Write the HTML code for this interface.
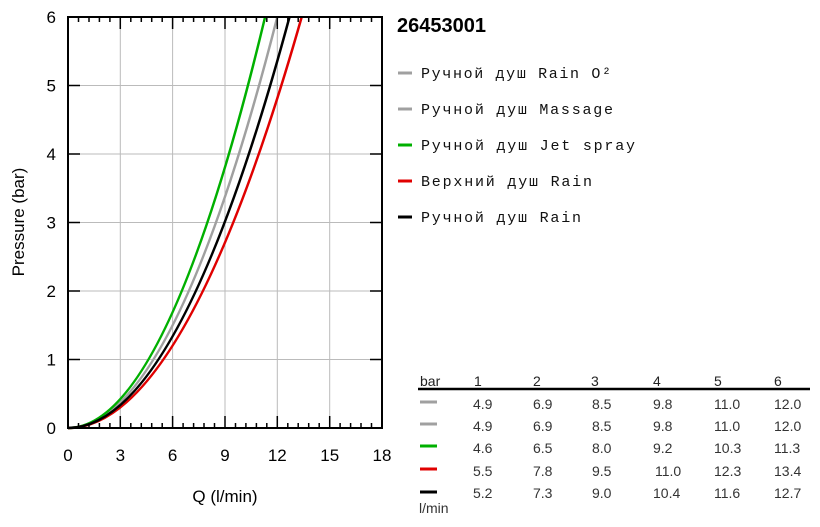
<!DOCTYPE html>
<html><head><meta charset="utf-8"><style>body{margin:0;background:#fff}</style></head><body>
<svg width="820" height="522" xmlns="http://www.w3.org/2000/svg" font-family="Liberation Sans, sans-serif">
<g stroke="#bbb" stroke-width="1">
<line x1="120.3" y1="17" x2="120.3" y2="428"/><line x1="172.6" y1="17" x2="172.6" y2="428"/><line x1="225" y1="17" x2="225" y2="428"/><line x1="277.3" y1="17" x2="277.3" y2="428"/><line x1="329.7" y1="17" x2="329.7" y2="428"/>
<line x1="68" y1="359.5" x2="382" y2="359.5"/><line x1="68" y1="291" x2="382" y2="291"/><line x1="68" y1="222.5" x2="382" y2="222.5"/><line x1="68" y1="154" x2="382" y2="154"/><line x1="68" y1="85.5" x2="382" y2="85.5"/>
</g>
<g fill="none" stroke-width="2.5">
<path stroke="#a0a0a0" d="M68 428Q172.6 428 277.3 17"/>
<path stroke="#00b000" d="M68 428Q166.5 428 265.1 17"/>
<path stroke="#e00000" d="M68 428Q184.8 428 301.7 17"/>
<path stroke="#000" d="M68 428Q178.7 428 289.5 17"/>
</g>
<rect x="68" y="17" width="314" height="411" fill="none" stroke="#000" stroke-width="2"/>
<g stroke="#000" stroke-width="1.5">
<path d="M120.3 17v12M172.6 17v12M225 17v12M277.3 17v12M329.7 17v12M120.3 428v-12M172.6 428v-12M225 428v-12M277.3 428v-12M329.7 428v-12"/>
<path d="M68 359.5h12M68 291h12M68 222.5h12M68 154h12M68 85.5h12M382 359.5h-12M382 291h-12M382 222.5h-12M382 154h-12M382 85.5h-12"/>
<path d="M78.5 17v5M89 17v5M99.4 17v5M109.9 17v5M130.8 17v5M141.3 17v5M151.7 17v5M162.2 17v5M183.1 17v5M193.6 17v5M204 17v5M214.5 17v5M235.5 17v5M245.9 17v5M256.4 17v5M266.8 17v5M287.8 17v5M298.2 17v5M308.7 17v5M319.2 17v5M340.1 17v5M350.6 17v5M361 17v5M371.5 17v5"/>
<path d="M78.5 428v-5M89 428v-5M99.4 428v-5M109.9 428v-5M130.8 428v-5M141.3 428v-5M151.7 428v-5M162.2 428v-5M183.1 428v-5M193.6 428v-5M204 428v-5M214.5 428v-5M235.5 428v-5M245.9 428v-5M256.4 428v-5M266.8 428v-5M287.8 428v-5M298.2 428v-5M308.7 428v-5M319.2 428v-5M340.1 428v-5M350.6 428v-5M361 428v-5M371.5 428v-5"/>
</g>
<g font-size="17" text-anchor="middle">
<text x="68" y="461">0</text><text x="120.3" y="461">3</text><text x="172.6" y="461">6</text><text x="225" y="461">9</text><text x="277.3" y="461">12</text><text x="329.7" y="461">15</text><text x="382" y="461">18</text>
</g>
<g font-size="17" text-anchor="end">
<text x="56" y="434">0</text><text x="56" y="365.5">1</text><text x="56" y="297">2</text><text x="56" y="228.5">3</text><text x="56" y="160">4</text><text x="56" y="91.5">5</text><text x="56" y="23">6</text>
</g>
<text x="225" y="502" font-size="17" text-anchor="middle">Q (l/min)</text>
<text transform="translate(24,222) rotate(-90)" font-size="17" text-anchor="middle">Pressure (bar)</text>
<text x="397" y="32" font-size="20" font-weight="bold">26453001</text>
<g stroke-width="3">
<line x1="398" y1="73" x2="412" y2="73" stroke="#a0a0a0"/><line x1="398" y1="109" x2="412" y2="109" stroke="#a0a0a0"/><line x1="398" y1="145" x2="412" y2="145" stroke="#00b000"/><line x1="398" y1="181" x2="412" y2="181" stroke="#e00000"/><line x1="398" y1="217" x2="412" y2="217" stroke="#000"/>
</g>
<g font-family="Liberation Mono, monospace" font-size="15" fill="#111">
<text x="421" y="78" textLength="190">Ручной душ Rain O²</text><text x="421" y="114" textLength="192">Ручной душ Massage</text><text x="421" y="150" textLength="214">Ручной душ Jet spray</text><text x="421" y="186" textLength="171">Верхний душ Rain</text><text x="421" y="222" textLength="160">Ручной душ Rain</text>
</g>
<g font-size="14" fill="#222">
<text x="420" y="386">bar</text><text x="474" y="386">1</text><text x="533" y="386">2</text><text x="591" y="386">3</text><text x="653" y="386">4</text><text x="714" y="386">5</text><text x="774" y="386">6</text>
</g>
<line x1="418" y1="389" x2="810" y2="389" stroke="#000" stroke-width="2.5"/>
<g stroke-width="3">
<line x1="420" y1="402" x2="437" y2="402" stroke="#a0a0a0"/><line x1="420" y1="424" x2="437" y2="424" stroke="#a0a0a0"/><line x1="420" y1="446" x2="437" y2="446" stroke="#00b000"/><line x1="420" y1="469" x2="437" y2="469" stroke="#e00000"/><line x1="420" y1="492" x2="437" y2="492" stroke="#000"/>
</g>
<g font-size="14" fill="#333">
<text x="473" y="409">4.9</text><text x="533" y="409">6.9</text><text x="592" y="409">8.5</text><text x="653" y="409">9.8</text><text x="714" y="409">11.0</text><text x="774" y="409">12.0</text>
<text x="473" y="431">4.9</text><text x="533" y="431">6.9</text><text x="592" y="431">8.5</text><text x="653" y="431">9.8</text><text x="714" y="431">11.0</text><text x="774" y="431">12.0</text>
<text x="473" y="453">4.6</text><text x="533" y="453">6.5</text><text x="592" y="453">8.0</text><text x="653" y="453">9.2</text><text x="714" y="453">10.3</text><text x="774" y="453">11.3</text>
<text x="473" y="476">5.5</text><text x="533" y="476">7.8</text><text x="592" y="476">9.5</text><text x="655" y="476">11.0</text><text x="714" y="476">12.3</text><text x="774" y="476">13.4</text>
<text x="473" y="498">5.2</text><text x="533" y="498">7.3</text><text x="592" y="498">9.0</text><text x="653" y="498">10.4</text><text x="714" y="498">11.6</text><text x="774" y="498">12.7</text>
<text x="419" y="513">l/min</text>
</g>
</svg>
</body></html>
